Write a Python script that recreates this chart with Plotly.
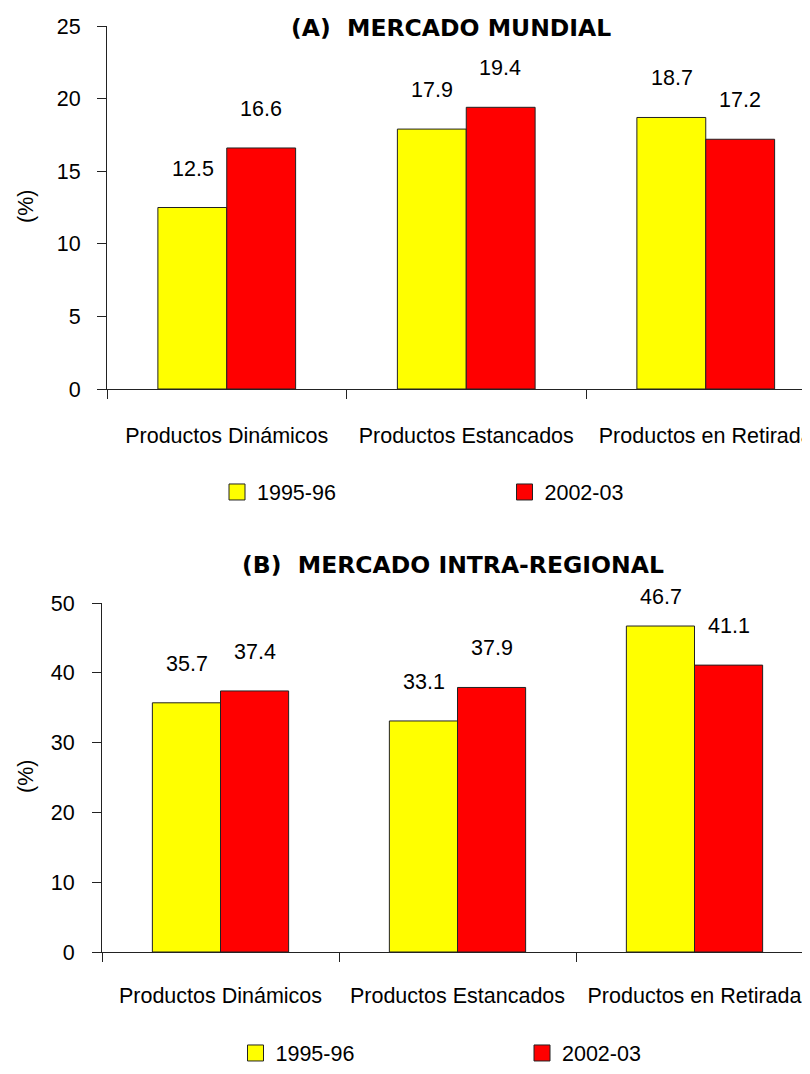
import plotly.graph_objects as go

categories = ["Productos Dinámicos", "Productos Estancados", "Productos en Retirada"]
series_names = ["1995-96", "2002-03"]
colors = ["#FFFF00", "#FF0000"]

# (A) Mercado mundial
mundial_1995 = [12.5, 17.9, 18.7]
mundial_2002 = [16.6, 19.4, 17.2]
# (B) Mercado intra-regional
intra_1995 = [35.7, 33.1, 46.7]
intra_2002 = [37.4, 37.9, 41.1]

titles = ["(A)  MERCADO MUNDIAL", "(B)  MERCADO INTRA-REGIONAL"]
yticks_a = [0, 5, 10, 15, 20, 25]
yticks_b = [0, 10, 20, 30, 40, 50]

FONT = "Liberation Sans, Arial, sans-serif"
FS = 21.5
OFF = 8  # page body margin
W, H = 810 - OFF, 1074 - OFF


def px(xs):
    return (xs - OFF) / W


def py(ys):
    return (H - (ys - OFF)) / H


fig = go.Figure()

panels = [
    dict(vals=[mundial_1995, mundial_2002], xa="x", ya="y", legend="legend",
         ymax=25, ticks=yticks_a),
    dict(vals=[intra_1995, intra_2002], xa="x2", ya="y2", legend="legend2",
         ymax=50, ticks=yticks_b),
]

for p in panels:
    for i, (name, col) in enumerate(zip(series_names, colors)):
        fig.add_trace(go.Bar(
            x=categories, y=p["vals"][i], name=name,
            marker=dict(color=col, line=dict(color="#222222", width=1)),
            xaxis=p["xa"], yaxis=p["ya"], showlegend=False,
            offsetgroup=str(i),
        ))
        # legend proxy
        fig.add_trace(go.Scatter(
            x=[None], y=[None], mode="markers", name=name,
            marker=dict(symbol="square", size=16, color=col,
                        line=dict(color="#222222", width=1)),
            xaxis=p["xa"], yaxis=p["ya"], legend=p["legend"], showlegend=True,
        ))

# value labels
ppu = {"y": 363.0 / 25, "y2": 349.0 / 50}
for p in panels:
    for i in range(2):
        for j, c in enumerate(categories):
            v = p["vals"][i][j]
            shift = min(39, (p["ymax"] - v) * ppu[p["ya"]] + 6)
            fig.add_annotation(
                x=c, y=v, xref=p["xa"], yref=p["ya"], text=f"{v:.1f}",
                showarrow=False, yshift=shift, xshift=(-34 if i == 0 else 34),
                font=dict(family=FONT, size=FS, color="black"),
                yanchor="middle",
            )

axis_common = dict(
    showline=True, linecolor="#222222", linewidth=1,
    ticks="outside", tickcolor="#222222", ticklen=9, tickwidth=1,
    showgrid=False, zeroline=False, automargin=False,
    tickfont=dict(family=FONT, size=FS, color="black"),
)

fig.update_layout(
    width=W, height=H,
    margin=dict(l=0, r=0, t=0, b=0, autoexpand=False),
    paper_bgcolor="white", plot_bgcolor="white",
    barmode="group", bargap=0.425, bargroupgap=0,
    xaxis=dict(domain=[px(107), 1], anchor="y", type="category",
               range=[-0.5, -0.5 + 703 / 239.5], tickson="boundaries",
               tickangle=0, ticklabelstandoff=27, **axis_common),
    yaxis=dict(domain=[py(389), py(26)], anchor="x",
               range=[0, 25], tickvals=yticks_a, ticklabelstandoff=12,
               **axis_common),
    xaxis2=dict(domain=[px(102), 1], anchor="y2", type="category",
                range=[-0.5, -0.5 + 708 / 237], tickson="boundaries",
                tickangle=0, ticklabelstandoff=24, **axis_common),
    yaxis2=dict(domain=[py(952), py(603)], anchor="x2",
                range=[0, 50], tickvals=yticks_b, ticklabelstandoff=13,
                **axis_common),
    legend=dict(orientation="h", x=px(217), y=py(492), yanchor="middle",
                xanchor="left", entrywidth=242.5, entrywidthmode="pixels",
                font=dict(family=FONT, size=FS, color="black"),
                bgcolor="rgba(0,0,0,0)"),
    legend2=dict(orientation="h", x=px(235.5), y=py(1053), yanchor="middle",
                 xanchor="left", entrywidth=241.5, entrywidthmode="pixels",
                 font=dict(family=FONT, size=FS, color="black"),
                 bgcolor="rgba(0,0,0,0)"),
)

# panel titles
for t, xc, yc in [(titles[0], 451, 28), (titles[1], 453, 565)]:
    fig.add_annotation(x=px(xc), y=py(yc), xref="paper", yref="paper",
                       text=t, showarrow=False, xanchor="center", yanchor="middle",
                       font=dict(family="DejaVu Sans", size=23.5, color="black",
                                 weight="bold"))

# y-axis titles
for yc in [207, 777]:
    fig.add_annotation(x=px(26), y=py(yc), xref="paper", yref="paper",
                       text="(%)", showarrow=False, textangle=-90,
                       xanchor="center", yanchor="middle",
                       font=dict(family=FONT, size=FS, color="black"))

fig.write_html("out.html")
